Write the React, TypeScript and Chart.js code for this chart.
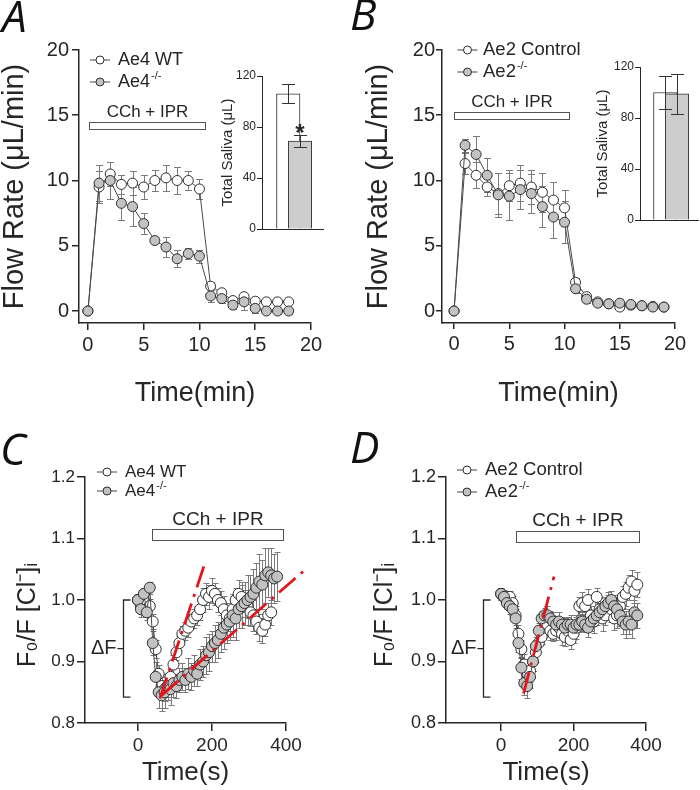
import React, { useEffect, useRef } from "react";
import { Chart, registerables } from "chart.js";

Chart.register(...registerables);

const FONT = "'Liberation Sans', Arial, Helvetica, sans-serif";
const INK = "#262626";
const KO_FILL = "#c2c2c2";
const WT_FILL = "#ffffff";
const ERR = "#7a7a7a";
const RED = "#e3141b";

// ---------------- Panel A (Ae4) flow ----------------
const timeA = [0, 1, 2, 3, 4, 5, 6, 7, 8, 9, 10, 11, 12, 13, 14, 15, 16, 17, 18];
const ae4WT = [0, 9.5, 10.5, 9.7, 9.8, 9.5, 10.0, 10.2, 10.0, 10.0, 9.35, 1.9, 1.4, 0.8, 1.1, 0.75, 0.7, 0.7, 0.7];
const ae4WTErr = [0, 1.2, 0.9, 0.7, 0.9, 0.9, 0.8, 1.0, 1.0, 0.7, 0.8, 0.3, 0.3, 0.3, 0.3, 0.3, 0.2, 0.2, 0.2];
const ae4KO = [0, 9.8, 10.0, 8.25, 8.0, 6.7, 5.4, 4.9, 4.0, 4.4, 4.2, 1.15, 0.95, 0.45, 0.7, 0.2, 0.0, 0.0, 0.0];
const ae4KOErr = [0, 1.4, 1.4, 1.3, 1.5, 0.8, 0.2, 0.75, 0.65, 0.4, 0.5, 0.45, 0.3, 0.3, 0.65, 0.35, 0.2, 0.2, 0.2];

// ---------------- Panel B (Ae2) flow ----------------
const timeB = [0, 1, 2, 3, 4, 5, 6, 7, 8, 9, 10, 11, 12, 13, 14, 15, 16, 17, 18, 19];
const ae2Ctrl = [0, 11.3, 10.4, 9.5, 9.0, 9.6, 9.8, 9.5, 9.1, 8.5, 7.9, 2.2, 1.1, 0.7, 0.55, 0.3, 0.45, 0.4, 0.35, 0.3];
const ae2CtrlErr = [0, 0.8, 1.0, 0.7, 1.6, 1.2, 1.4, 1.3, 1.5, 1.4, 1.4, 0.3, 0.3, 0.2, 0.2, 0.2, 0.2, 0.2, 0.2, 0.2];
const ae2KO = [0, 12.7, 12.0, 10.4, 8.9, 8.8, 9.3, 9.0, 8.0, 7.2, 6.8, 1.7, 0.9, 0.6, 0.55, 0.6, 0.5, 0.4, 0.3, 0.3];
const ae2KOErr = [0, 0.5, 1.4, 1.3, 1.7, 1.8, 1.5, 1.5, 1.6, 1.6, 1.6, 0.3, 0.3, 0.2, 0.2, 0.3, 0.3, 0.2, 0.2, 0.2];

// ---------------- Insets: total saliva ----------------
const barIndex = [1, 2];
const salivaA = [106, 69];
const salivaAErr = [7.5, 5];
const salivaB = [100, 99];
const salivaBErr = [13, 15.5];

// ---------------- Panels C/D: F0/F [Cl-]i ----------------
const imagingTime = [0, 8, 16, 24, 32, 40, 48, 56, 64, 72, 80, 88, 96, 104, 112, 120, 128, 136, 144, 152, 160, 168, 176, 184, 192, 200, 208, 216, 224, 232, 240, 248, 256, 264, 272, 280, 288, 296, 304, 312, 320, 328, 336, 344, 352, 360, 368, 376];

const ae4WTCl = [1.0, 0.99, 1.0, 0.985, 0.99, 0.965, 0.92, 0.88, 0.86, 0.855, 0.86, 0.875, 0.895, 0.915, 0.93, 0.945, 0.95, 0.955, 0.965, 0.97, 0.975, 0.985, 1.0, 1.01, 1.005, 1.015, 1.01, 1.0, 0.995, 0.985, 0.975, 0.97, 0.985, 1.0, 1.01, 1.005, 0.995, 0.99, 0.98, 0.975, 0.965, 0.955, 0.95, 0.96, 0.975, 0.98];
const ae4WTClErr = [0.01, 0.01, 0.01, 0.01, 0.012, 0.012, 0.015, 0.015, 0.02, 0.02, 0.018, 0.015, 0.015, 0.012, 0.012, 0.012, 0.015, 0.015, 0.012, 0.015, 0.015, 0.018, 0.02, 0.018, 0.02, 0.02, 0.018, 0.02, 0.02, 0.022, 0.02, 0.02, 0.022, 0.02, 0.022, 0.025, 0.022, 0.02, 0.022, 0.025, 0.02, 0.022, 0.02, 0.018, 0.02, 0.02];
const ae4KOCl = [1.0, 0.985, 1.01, 0.98, 1.02, 0.93, 0.875, 0.85, 0.845, 0.85, 0.86, 0.855, 0.865, 0.86, 0.87, 0.875, 0.87, 0.88, 0.875, 0.885, 0.88, 0.895, 0.9, 0.91, 0.915, 0.925, 0.93, 0.935, 0.945, 0.955, 0.96, 0.965, 0.975, 0.97, 0.985, 0.99, 0.995, 1.0, 1.005, 1.01, 1.02, 1.03, 1.025, 1.04, 1.045, 1.04, 1.035, 1.038];
const ae4KOClErr = [0.01, 0.012, 0.01, 0.012, 0.01, 0.02, 0.025, 0.025, 0.025, 0.025, 0.022, 0.025, 0.022, 0.02, 0.02, 0.022, 0.02, 0.025, 0.022, 0.025, 0.02, 0.025, 0.025, 0.03, 0.03, 0.025, 0.03, 0.03, 0.03, 0.035, 0.03, 0.03, 0.035, 0.035, 0.03, 0.035, 0.035, 0.04, 0.035, 0.04, 0.04, 0.045, 0.04, 0.045, 0.04, 0.045, 0.04, 0.04];

const ae2CtrlCl = [1.01, 1.005, 1.0, 1.005, 0.995, 0.975, 0.945, 0.92, 0.895, 0.88, 0.885, 0.9, 0.915, 0.93, 0.94, 0.955, 0.96, 0.95, 0.945, 0.95, 0.955, 0.945, 0.94, 0.95, 0.935, 0.945, 0.955, 0.99, 0.995, 0.99, 1.0, 0.975, 0.965, 1.005, 0.985, 0.97, 0.975, 0.99, 0.985, 0.97, 0.975, 0.99, 1.005, 1.01, 1.02, 1.03, 1.015, 1.025];
const ae2CtrlClErr = [0.01, 0.01, 0.012, 0.01, 0.012, 0.015, 0.015, 0.015, 0.018, 0.02, 0.018, 0.015, 0.015, 0.015, 0.012, 0.015, 0.012, 0.015, 0.012, 0.015, 0.015, 0.018, 0.015, 0.018, 0.015, 0.015, 0.018, 0.015, 0.018, 0.015, 0.018, 0.015, 0.018, 0.015, 0.018, 0.02, 0.015, 0.018, 0.02, 0.018, 0.02, 0.02, 0.018, 0.02, 0.02, 0.018, 0.02, 0.02];
const ae2KOCl = [1.01, 1.005, 0.995, 0.99, 0.985, 0.97, 0.93, 0.89, 0.865, 0.86, 0.875, 0.9, 0.925, 0.95, 0.97, 0.975, 0.975, 0.97, 0.965, 0.96, 0.965, 0.96, 0.955, 0.96, 0.96, 0.955, 0.96, 0.96, 0.965, 0.96, 0.955, 0.965, 0.97, 0.975, 0.98, 0.985, 0.99, 0.995, 1.0, 0.99, 0.985, 0.975, 0.965, 0.96, 0.965, 0.96, 0.98, 0.975];
const ae2KOClErr = [0.01, 0.012, 0.01, 0.012, 0.012, 0.015, 0.015, 0.018, 0.02, 0.02, 0.018, 0.015, 0.015, 0.012, 0.012, 0.012, 0.015, 0.012, 0.015, 0.012, 0.015, 0.012, 0.015, 0.012, 0.015, 0.012, 0.015, 0.012, 0.015, 0.012, 0.015, 0.015, 0.012, 0.015, 0.015, 0.012, 0.015, 0.018, 0.015, 0.018, 0.02, 0.018, 0.02, 0.022, 0.02, 0.022, 0.02, 0.02];

// red recovery-rate lines
const fitC1Time = [59.5, 181];
const fitC1Val = [0.84, 1.06];
const fitC2Time = [64, 451];
const fitC2Val = [0.845, 1.049];
const fitDTime = [62, 146];
const fitDVal = [0.848, 1.038];

// tick labels
const flowTicks = [0, 5, 10, 15, 20];
const minuteTicks = [0, 5, 10, 15, 20];
const ratioTicks = [0.8, 0.9, 1.0, 1.1, 1.2];
const secondTicks = [0, 200, 400];
const salivaTicks = [0, 40, 80, 120];

// ---------------- helpers ----------------
const pts = (xs: number[], ys: number[]) => ys.map((y, i) => ({ x: xs[i], y }));

const fixW = (w: number) => (s: any) => {
  s.width = w;
  s.paddingTop = 0; s.paddingBottom = 0; s.paddingLeft = 0; s.paddingRight = 0;
};
const fixH = (h: number) => (s: any) => {
  s.height = h;
  s.paddingTop = 0; s.paddingBottom = 0; s.paddingLeft = 0; s.paddingRight = 0;
};

const ttl = (text: string, size: number, pad: any) => ({
  display: true, text, color: INK, font: { family: FONT, size, lineHeight: 1 }, padding: pad,
});

function linAxis(o: { min: number; max: number; ticks: number[]; size: number; tickLen: number; pad: number; fit: (s: any) => void; fmt: (v: number) => string; title?: any; lw?: number }) {
  const lw = o.lw ?? 1.5;
  return {
    type: "linear",
    min: o.min,
    max: o.max,
    afterBuildTicks: (s: any) => { s.ticks = o.ticks.map((v) => ({ value: v })); },
    afterFit: o.fit,
    ticks: { autoSkip: false, maxRotation: 0, minRotation: 0, padding: o.pad, color: INK, font: { family: FONT, size: o.size }, callback: (v: any) => o.fmt(Number(v)) },
    grid: { display: true, drawOnChartArea: false, drawTicks: true, tickLength: o.tickLen, tickWidth: lw, tickColor: INK, color: INK, lineWidth: lw },
    border: { display: true, color: INK, width: lw },
    title: o.title ?? { display: false },
  };
}

function baseOptions(padding: any, scales: any) {
  return {
    responsive: false,
    maintainAspectRatio: false,
    animation: false,
    devicePixelRatio: 1,
    events: [],
    layout: { padding },
    plugins: { legend: { display: false }, tooltip: { enabled: false } },
    scales,
  };
}

const seriesStyle = (fill: string, r: number, line: boolean) => ({
  showLine: line,
  borderColor: "#4a4a4a",
  borderWidth: 1,
  pointRadius: r,
  pointHoverRadius: r,
  pointBackgroundColor: fill,
  pointBorderColor: "#2e2e2e",
  pointBorderWidth: 1,
});

const redLine = (xs: number[], ys: number[]) => ({
  data: pts(xs, ys),
  showLine: true,
  borderColor: RED,
  borderWidth: 2.8,
  borderDash: [22, 7, 3, 7],
  pointRadius: 0,
  pointHoverRadius: 0,
  clip: false,
  order: 0,
});

function errPlugin(when: "before" | "after", cap: number, color: string) {
  const draw = (chart: any) => {
    const ctx = chart.ctx;
    const xs = chart.scales.x;
    const ys = chart.scales.y;
    ctx.save();
    ctx.strokeStyle = color;
    ctx.lineWidth = 1;
    chart.data.datasets.forEach((ds: any) => {
      if (!ds.errors) return;
      ds.data.forEach((p: any, i: number) => {
        const e = ds.errors[i];
        if (!e) return;
        const x = Math.round(xs.getPixelForValue(p.x)) + 0.5;
        const y1 = Math.round(ys.getPixelForValue(p.y + e)) + 0.5;
        const y2 = Math.round(ys.getPixelForValue(p.y - e)) + 0.5;
        ctx.beginPath();
        ctx.moveTo(x, y1); ctx.lineTo(x, y2);
        ctx.moveTo(x - cap, y1); ctx.lineTo(x + cap, y1);
        ctx.moveTo(x - cap, y2); ctx.lineTo(x + cap, y2);
        ctx.stroke();
      });
    });
    ctx.restore();
  };
  return when === "before"
    ? { id: "errbars", beforeDatasetsDraw: draw }
    : { id: "errbars", afterDatasetsDraw: draw };
}

type LegendItem = { label: string; sup?: string; fill: string };
interface Annot {
  stim?: { x0: number; x1: number; y0: number; y1: number; label: string; font: number; gap: number };
  legend?: { sx: number; tx: number; y: number; dy: number; font: number; r: number; items: LegendItem[] };
  bracket?: { x: number; top: number; bottom: number; label: string; font: number };
  yTitle?: { text: string; cx: number; cy: number; font: number };
  star?: { x: number; y: number; font: number; dy: number };
}

function annotPlugin(a: Annot) {
  return {
    id: "annot",
    afterDraw(chart: any) {
      const ctx = chart.ctx;
      const xs = chart.scales.x;
      const ys = chart.scales.y;
      ctx.save();
      if (a.stim) {
        const S = a.stim;
        const x0 = Math.round(xs.getPixelForValue(S.x0)) + 0.5;
        const x1 = Math.round(xs.getPixelForValue(S.x1)) + 0.5;
        const yt = Math.round(ys.getPixelForValue(S.y1)) + 0.5;
        const yb = Math.round(ys.getPixelForValue(S.y0)) + 0.5;
        ctx.fillStyle = "#fff";
        ctx.fillRect(x0, yt, x1 - x0, yb - yt);
        ctx.strokeStyle = "#555";
        ctx.lineWidth = 1;
        ctx.strokeRect(x0, yt, x1 - x0, yb - yt);
        ctx.fillStyle = INK;
        ctx.font = `${S.font}px ${FONT}`;
        ctx.textAlign = "center";
        ctx.textBaseline = "middle";
        ctx.fillText(S.label, (x0 + x1) / 2, yt - S.gap);
      }
      if (a.legend) {
        const L = a.legend;
        L.items.forEach((it, i) => {
          const y = L.y + i * L.dy;
          ctx.strokeStyle = "#444";
          ctx.lineWidth = 1;
          ctx.beginPath();
          ctx.moveTo(L.sx - 10, y);
          ctx.lineTo(L.sx + 10, y);
          ctx.stroke();
          ctx.beginPath();
          ctx.arc(L.sx, y, L.r, 0, Math.PI * 2);
          ctx.fillStyle = it.fill;
          ctx.fill();
          ctx.strokeStyle = "#2e2e2e";
          ctx.stroke();
          ctx.fillStyle = INK;
          ctx.font = `${L.font}px ${FONT}`;
          ctx.textAlign = "left";
          ctx.textBaseline = "middle";
          ctx.fillText(it.label, L.tx, y);
          if (it.sup) {
            const w = ctx.measureText(it.label).width;
            ctx.font = `${Math.round(L.font * 0.62)}px ${FONT}`;
            ctx.fillText(it.sup, L.tx + w + 1, y - L.font * 0.32);
          }
        });
      }
      if (a.bracket) {
        const B = a.bracket;
        const x = Math.round(xs.getPixelForValue(B.x)) + 0.5;
        const yt = ys.getPixelForValue(B.top);
        const yb = ys.getPixelForValue(B.bottom);
        const ym = (yt + yb) / 2;
        ctx.strokeStyle = INK;
        ctx.lineWidth = 1.3;
        ctx.beginPath();
        ctx.moveTo(x + 7, yt); ctx.lineTo(x, yt); ctx.lineTo(x, yb); ctx.lineTo(x + 7, yb);
        ctx.moveTo(x, ym); ctx.lineTo(x - 6, ym);
        ctx.stroke();
        ctx.fillStyle = INK;
        ctx.font = `${B.font}px ${FONT}`;
        ctx.textAlign = "right";
        ctx.textBaseline = "middle";
        ctx.fillText(B.label, x - 7, ym);
      }
      if (a.star) {
        const T = a.star;
        ctx.fillStyle = INK;
        ctx.font = `bold ${T.font}px ${FONT}`;
        ctx.textAlign = "center";
        ctx.textBaseline = "alphabetic";
        ctx.fillText("*", xs.getPixelForValue(T.x), ys.getPixelForValue(T.y) + T.dy);
      }
      if (a.yTitle) {
        const Y = a.yTitle;
        ctx.translate(Y.cx, Y.cy);
        ctx.rotate(-Math.PI / 2);
        ctx.fillStyle = INK;
        ctx.font = `${Y.font}px ${FONT}`;
        ctx.textAlign = "center";
        ctx.textBaseline = "middle";
        ctx.fillText(Y.text, 0, 0);
      }
      ctx.restore();
    },
  };
}

// ---------------- chart configs ----------------
const makeA = () => ({
  type: "scatter",
  data: {
    datasets: [
      { data: pts(timeA, ae4KO), errors: ae4KOErr, ...seriesStyle(KO_FILL, 5, true), order: 1 },
      { data: pts(timeA, ae4WT), errors: ae4WTErr, ...seriesStyle(WT_FILL, 5, true), order: 2 },
    ],
  },
  options: baseOptions({ left: 0, top: 50, right: 34, bottom: 0 }, {
    x: linAxis({ min: -0.8, max: 20, ticks: minuteTicks, size: 20, tickLen: 7, pad: 3, fit: fixH(92), fmt: String, title: ttl("Time(min)", 27, { top: 0, bottom: 7.5 }) }),
    y: linAxis({ min: -0.92, max: 20, ticks: flowTicks, size: 20, tickLen: 7, pad: 3, fit: fixW(79), fmt: String, title: ttl("Flow Rate (μL/min)", 29, { top: 0.5, bottom: 0 }) }),
  }),
  plugins: [
    errPlugin("before", 3.5, ERR),
    annotPlugin({
      stim: { x0: 0.1, x1: 10.5, y0: 13.95, y1: 14.45, label: "CCh + IPR", font: 17, gap: 10.5 },
      legend: { sx: 100, tx: 118, y: 60, dy: 22, font: 18, r: 4, items: [{ label: "Ae4 WT", fill: WT_FILL }, { label: "Ae4", sup: "-/-", fill: KO_FILL }] },
    }),
  ],
});

const makeB = () => ({
  type: "scatter",
  data: {
    datasets: [
      { data: pts(timeB, ae2KO), errors: ae2KOErr, ...seriesStyle(KO_FILL, 5, true), order: 1 },
      { data: pts(timeB, ae2Ctrl), errors: ae2CtrlErr, ...seriesStyle(WT_FILL, 5, true), order: 2 },
    ],
  },
  options: baseOptions({ left: 0, top: 50, right: 25, bottom: 0 }, {
    x: linAxis({ min: -1.09, max: 20, ticks: minuteTicks, size: 20, tickLen: 6, pad: 3, fit: fixH(92), fmt: String, title: ttl("Time(min)", 27, { top: 0, bottom: 7.5 }) }),
    y: linAxis({ min: -0.92, max: 20, ticks: flowTicks, size: 20, tickLen: 6, pad: 1, fit: fixW(97), fmt: String, title: ttl("Flow Rate (μL/min)", 29, { top: 19.5, bottom: 0 }) }),
  }),
  plugins: [
    errPlugin("before", 3.5, ERR),
    annotPlugin({
      stim: { x0: 0, x1: 10.4, y0: 14.7, y1: 15.23, label: "CCh + IPR", font: 17, gap: 10 },
      legend: { sx: 122.5, tx: 138, y: 50, dy: 22, font: 18.5, r: 4, items: [{ label: "Ae2 Control", fill: WT_FILL }, { label: "Ae2", sup: "-/-", fill: KO_FILL }] },
    }),
  ],
});

function makeInset(values: number[], errs: number[], xMin: number, xMax: number, yWidth: number, pad: any, star: boolean) {
  return () => ({
    type: "bar",
    data: {
      datasets: [
        {
          data: pts(barIndex, values),
          errors: errs,
          backgroundColor: [WT_FILL, "#cdcdcd"],
          borderColor: "#333",
          borderWidth: 1,
          barThickness: 23.5,
        },
      ],
    },
    options: baseOptions(pad, {
      x: {
        type: "linear",
        min: xMin,
        max: xMax,
        afterFit: fixH(0),
        ticks: { display: false },
        grid: { display: false },
        border: { display: true, color: INK, width: 1 },
      },
      y: linAxis({ min: 0, max: 120, ticks: salivaTicks, size: 12, tickLen: 5, pad: 1, lw: 1, fit: fixW(yWidth), fmt: String, title: ttl("Total Saliva (μL)", 15, { top: 20, bottom: 0 }) }),
    }),
    plugins: [
      errPlugin("after", 6.5, "#333"),
      annotPlugin(star ? { star: { x: barIndex[1], y: values[1] + errs[1], font: 24, dy: 6 } } : {}),
    ],
  });
}

const makeInsetA = makeInset(salivaA, salivaAErr, 0.064, 2.66, 62, { left: 0, top: 16, right: 7, bottom: 11 }, true);
const makeInsetB = makeInset(salivaB, salivaBErr, 0.085, 2.553, 65, { left: 0, top: 17, right: 2, bottom: 10 }, false);

function makeCl(o: {
  wt: number[]; wtErr: number[]; ko: number[]; koErr: number[]; fits: any[];
  xMin: number; yWidth: number; padRight: number; ySize: number; yPad: number;
  stim: any; legend: any; bracket: any; yTitleX: number;
}) {
  return () => ({
    type: "scatter",
    data: {
      datasets: [
        ...o.fits,
        { data: pts(imagingTime, o.ko), errors: o.koErr, ...seriesStyle(KO_FILL, 5.5, true), order: 1 },
        { data: pts(imagingTime, o.wt), errors: o.wtErr, ...seriesStyle(WT_FILL, 5.5, true), order: 2 },
      ],
    },
    options: baseOptions({ left: 0, top: 62, right: o.padRight, bottom: 0 }, {
      x: linAxis({ min: o.xMin, max: 400, ticks: secondTicks, size: 19, tickLen: 8, pad: 3, fit: fixH(67), fmt: String, title: ttl("Time(s)", 26, { top: 0, bottom: 4 }) }),
      y: linAxis({ min: 0.8, max: 1.2, ticks: ratioTicks, size: o.ySize, tickLen: 8, pad: o.yPad, fit: fixW(o.yWidth), fmt: (v: number) => v.toFixed(1) }),
    }),
    plugins: [
      errPlugin("before", 3, ERR),
      annotPlugin({
        stim: o.stim,
        legend: o.legend,
        bracket: o.bracket,
        yTitle: { text: "F₀/F [Cl⁻]ᵢ", cx: o.yTitleX, cy: 200, font: 25 },
      }),
    ],
  });
}

const makeC = makeCl({
  wt: ae4WTCl, wtErr: ae4WTClErr, ko: ae4KOCl, koErr: ae4KOClErr,
  fits: [redLine(fitC1Time, fitC1Val), redLine(fitC2Time, fitC2Val)],
  xMin: -143, yWidth: 85, padRight: 59, ySize: 17, yPad: 2,
  stim: { x0: 37, x1: 391, y0: 1.098, y1: 1.115, label: "CCh + IPR", font: 19, gap: 10 },
  legend: { sx: 107, tx: 125, y: 57, dy: 19, font: 17, r: 4, items: [{ label: "Ae4 WT", fill: WT_FILL }, { label: "Ae4", sup: "-/-", fill: KO_FILL }] },
  bracket: { x: -40.5, top: 1.0, bottom: 0.842, label: "ΔF", font: 20 },
  yTitleX: 28,
});

const makeD = makeCl({
  wt: ae2CtrlCl, wtErr: ae2CtrlClErr, ko: ae2KOCl, koErr: ae2KOClErr,
  fits: [redLine(fitDTime, fitDVal)],
  xMin: -152, yWidth: 101, padRight: 54, ySize: 18, yPad: 2,
  stim: { x0: 40.5, x1: 380, y0: 1.095, y1: 1.112, label: "CCh + IPR", font: 19, gap: 10.5 },
  legend: { sx: 122, tx: 140, y: 55, dy: 22, font: 18.5, r: 4, items: [{ label: "Ae2 Control", fill: WT_FILL }, { label: "Ae2", sup: "-/-", fill: KO_FILL }] },
  bracket: { x: -49.7, top: 1.0, bottom: 0.842, label: "ΔF", font: 20 },
  yTitleX: 40,
});

function ChartBox({ left, top, width, height, make }: { left: number; top: number; width: number; height: number; make: () => any }) {
  const ref = useRef<HTMLCanvasElement | null>(null);
  useEffect(() => {
    if (!ref.current) return;
    const chart = new Chart(ref.current, make());
    return () => chart.destroy();
  }, []);
  return <canvas ref={ref} width={width} height={height} style={{ position: "absolute", left, top, width, height }} />;
}

const letterStyle = (left: number, top: number): React.CSSProperties => ({
  position: "absolute",
  left,
  top,
  font: "italic 44px 'Open Sans', 'Liberation Sans', sans-serif",
  lineHeight: "44px",
  color: "#111",
});

export default function App() {
  return (
    <div style={{ position: "absolute", left: 0, top: 0, width: 700, height: 790, background: "#fff", overflow: "hidden" }}>
      <ChartBox left={0} top={0} width={345} height={415} make={makeA} />
      <ChartBox left={345} top={0} width={355} height={415} make={makeB} />
      <ChartBox left={200} top={60} width={130} height={180} make={makeInsetA} />
      <ChartBox left={575} top={50} width={125} height={180} make={makeInsetB} />
      <ChartBox left={0} top={415} width={345} height={375} make={makeC} />
      <ChartBox left={345} top={415} width={355} height={375} make={makeD} />
      <div style={letterStyle(2, -7)}>A</div>
      <div style={letterStyle(350, -9)}>B</div>
      <div style={letterStyle(0, 426)}>C</div>
      <div style={letterStyle(350, 424)}>D</div>
    </div>
  );
}
